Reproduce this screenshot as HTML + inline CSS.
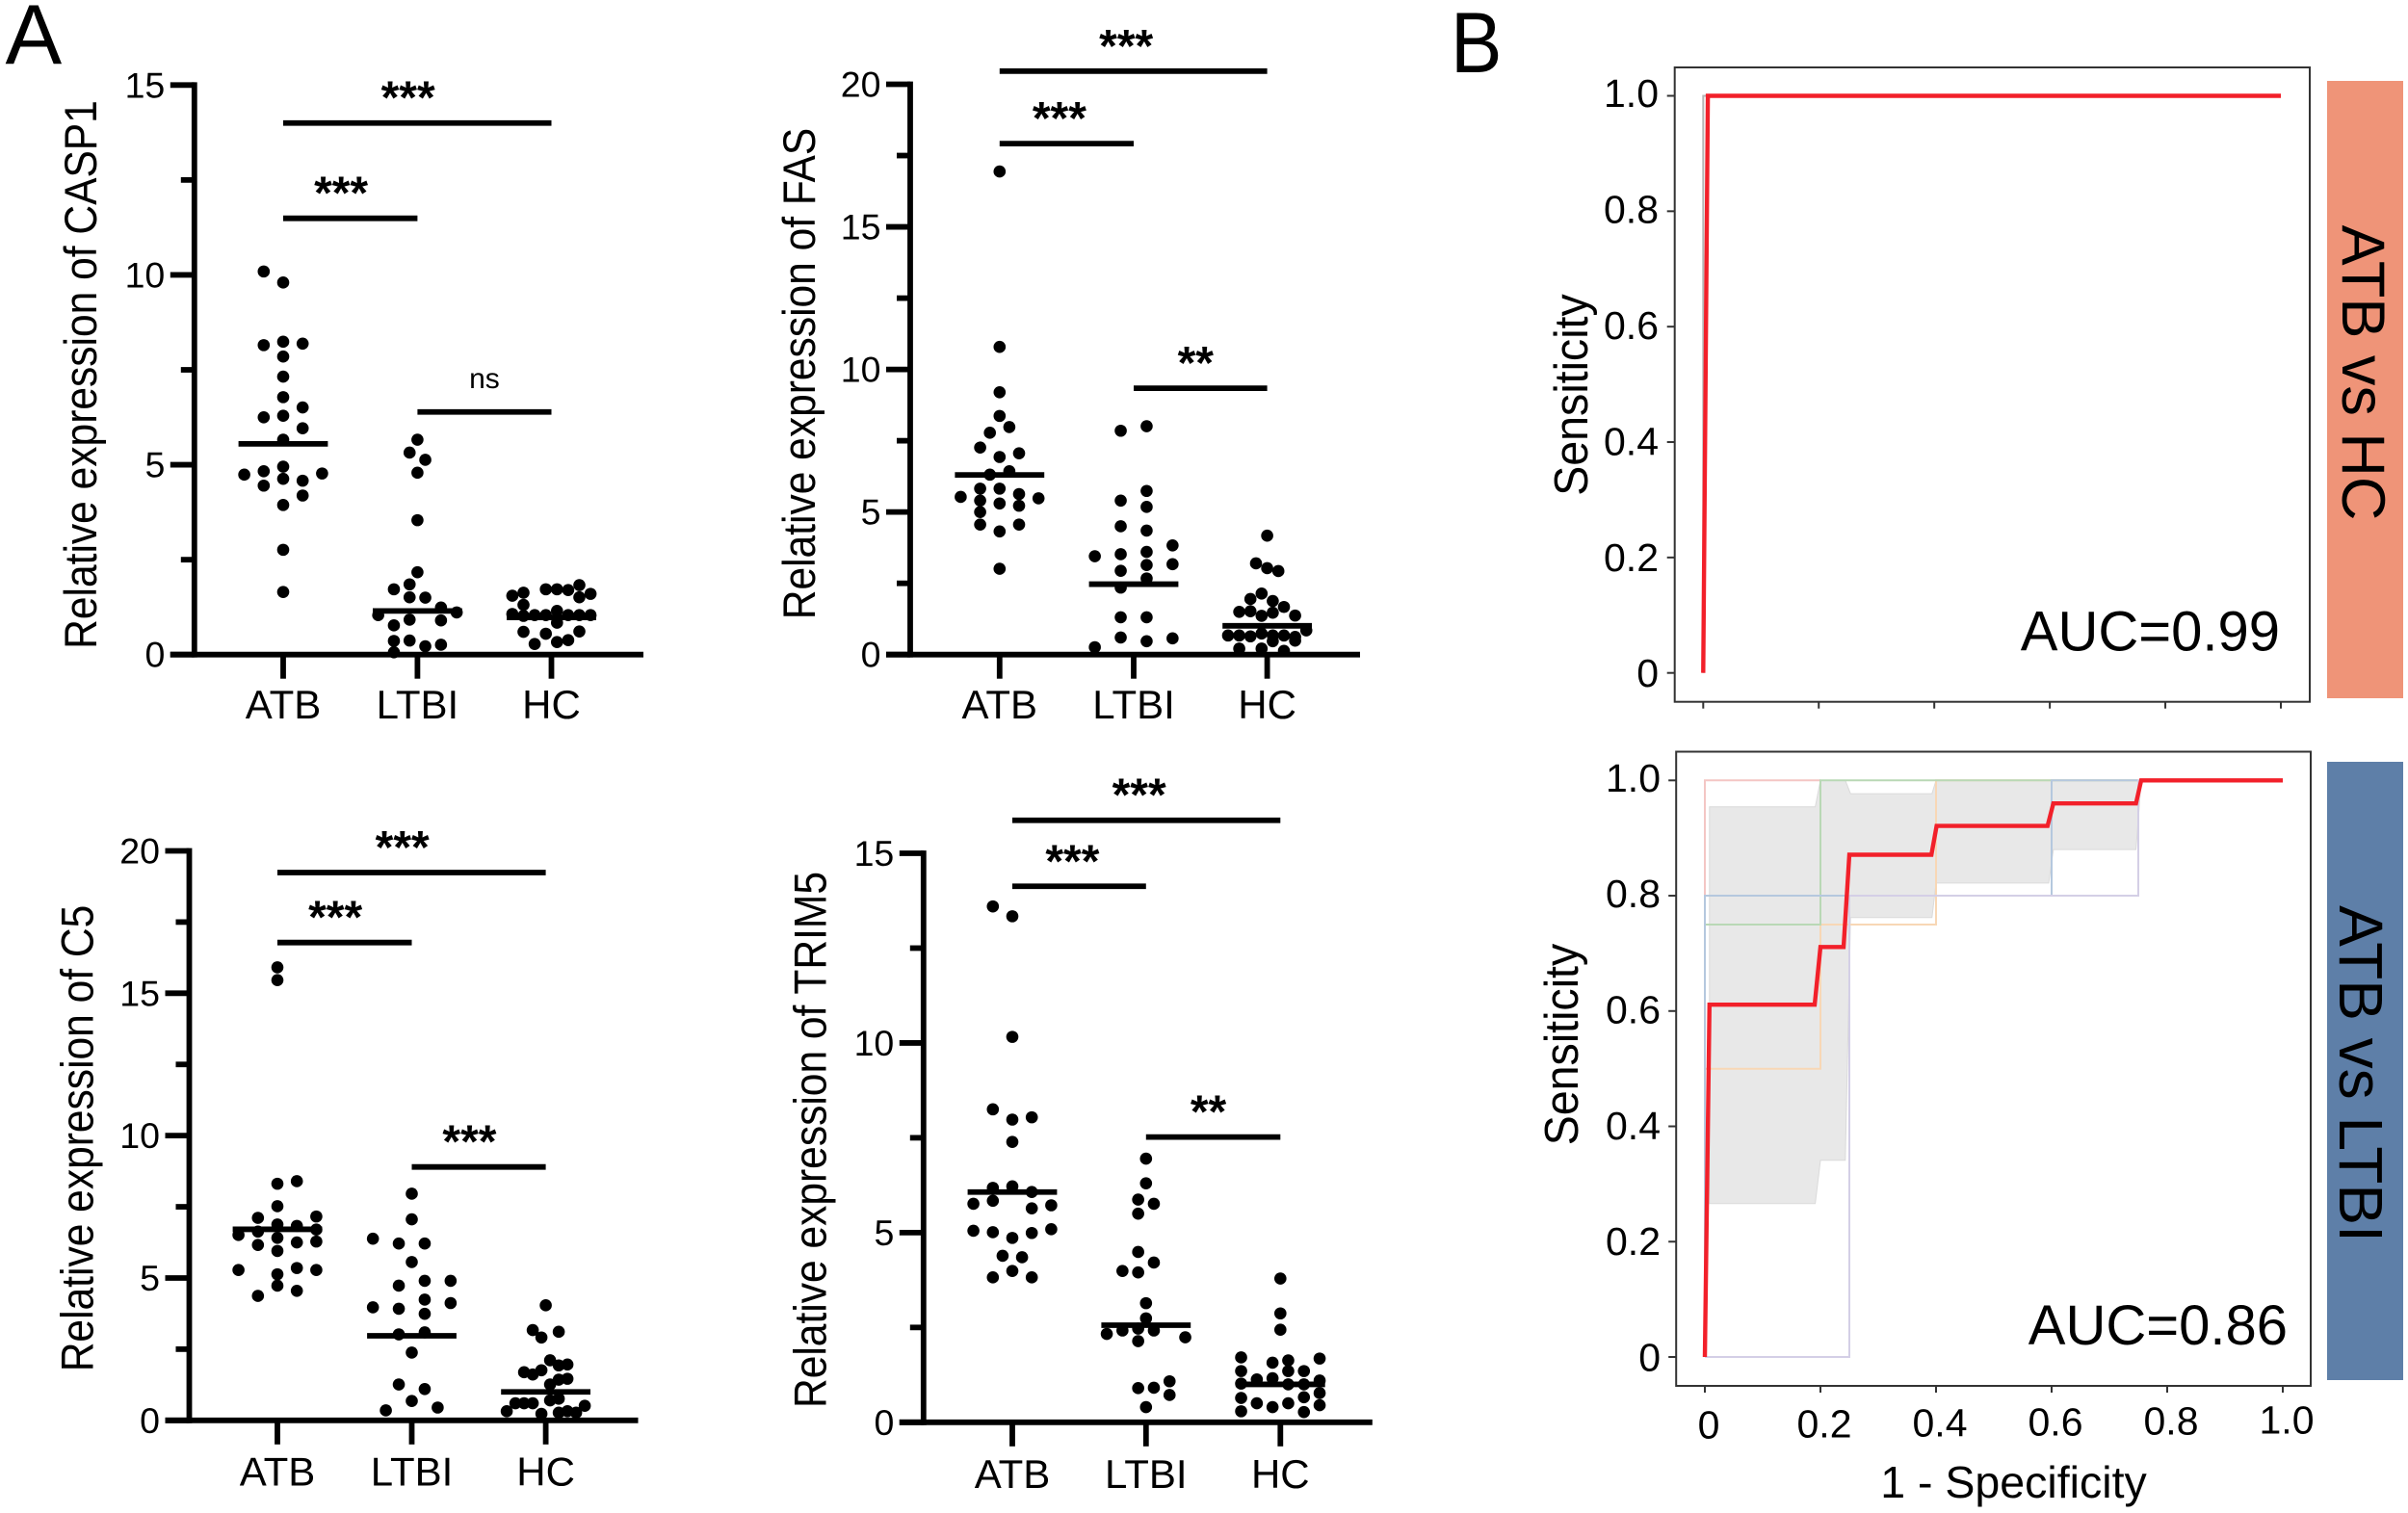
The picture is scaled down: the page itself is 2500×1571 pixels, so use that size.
<!DOCTYPE html>
<html lang="en">
<head>
<meta charset="utf-8">
<title>Relative expression and ROC curves</title>
<style>
html,body{margin:0;padding:0;background:#fff;}
svg{display:block;}
text{font-family:"Liberation Sans",sans-serif;fill:#000;}
</style>
</head>
<body>
<svg id="figure" xmlns="http://www.w3.org/2000/svg" width="2500" height="1571" viewBox="0 0 2500 1571">
<rect width="2500" height="1571" fill="#fff"/>
<text x="5.5" y="66.7" font-size="88">A</text>
<text font-size="89" transform="translate(1506 75) scale(0.9 1)">B</text>
<rect x="2416" y="84" width="79" height="641" fill="#EF9478"/>
<text font-size="63" text-anchor="middle" transform="translate(2432 387) rotate(90)">ATB vs HC</text>
<rect x="2416" y="791" width="79" height="642" fill="#5E7FA8"/>
<text font-size="64" text-anchor="middle" transform="translate(2429 1115) rotate(90)">ATB vs LTBI</text>
</svg>
<script>
const categories = ['ATB', 'LTBI', 'HC'];

const casp1AtbValues = [10.09,9.80,8.15,8.24,8.19,7.85,7.32,6.78,6.51,6.25,6.29,5.96,5.66,4.83,4.95,4.74,4.77,4.63,4.58,4.45,4.19,3.94,2.76,1.65];
const casp1AtbLanes = [-1,0,-1,0,1,0,0,0,1,-1,0,1,0,-1,0,-2,2,0,1,-1,1,0,0,0];
const casp1LtbiValues = [5.66,5.32,5.13,4.79,3.54,2.17,1.85,1.72,1.51,1.50,1.24,1.11,1.04,0.77,0.92,0.90,0.36,0.37,0.22,0.26,0.06];
const casp1LtbiLanes = [0,-0.5,0.5,0,0,0,-0.5,-1.5,-0.5,0.5,1.5,2.5,-2.5,-1.5,-0.5,1.5,-1.5,-0.5,0.5,1.5,-1.5];
const casp1HcValues = [1.83,1.72,1.72,1.70,1.63,1.55,1.60,1.51,1.31,1.15,1.07,1.04,1.04,1.02,1.04,1.04,1.04,0.84,0.60,0.55,0.61,0.38,0.33,0.28];
const casp1HcLanes = [2.5,-0.5,0.5,1.5,-2.5,-3.5,3.5,2.5,-2.5,0.5,-3.5,-0.5,-1.5,-2.5,1.5,2.5,3.5,0.5,-2.5,-0.5,2.5,1.5,0.5,-1.5];
const casp1Medians = [5.55,1.15,0.98];
const casp1BracketLevels = [14.0,11.49,6.39];
const casp1BracketLabels = ['***','***','ns'];

const fasAtbValues = [16.94,10.79,9.2,8.37,7.78,7.98,7.26,7.06,6.93,6.31,6.43,5.82,5.82,5.63,5.53,5.48,5.4,5.3,5.22,5.0,4.56,4.56,4.32,3.01];
const fasAtbLanes = [0,0,0,0,-0.5,0.5,-1,1,0,-0.5,0.5,-1,0,1,-2,2,-1,0,1,-1,-1,1,0,0];
const fasLtbiValues = [8.01,7.85,5.74,5.4,5.18,4.5,4.35,3.83,3.45,3.52,3.6,3.17,3.14,2.94,2.67,2.35,1.31,1.31,0.6,0.57,0.47,0.26];
const fasLtbiLanes = [0.5,-0.5,0.5,-0.5,0.5,-0.5,0.5,1.5,-1.5,-0.5,0.5,1.5,0.5,-0.5,0.5,-0.5,-0.5,0.5,-0.5,1.5,0.5,-1.5];
const fasHcValues = [4.17,3.2,3.03,2.93,2.14,1.95,1.88,1.67,1.5,1.52,1.47,1.36,1.37,0.67,0.67,0.64,0.74,0.67,0.67,0.62,0.85,0.21,0.21,0.47,0.49,0.13];
const fasHcLanes = [0,-1,0,1,-0.5,-1.5,0.5,1.5,-2.5,-1.5,0.5,-0.5,2.5,-3.5,-2.5,-1.5,-0.5,0.5,1.5,2.5,3.5,-2.5,-0.5,0.5,2.5,1.5];
const fasMedians = [6.3,2.47,1.01];
const fasBracketLevels = [20.46,17.92,9.34];
const fasBracketLabels = ['***','***','**'];

const c5AtbValues = [15.91,15.46,8.4,8.31,7.52,7.11,7.16,6.88,6.83,6.63,6.7,6.51,6.41,6.16,6.25,6.28,5.95,5.28,5.35,5.28,5.13,4.73,4.55,4.37];
const c5AtbLanes = [0,0,1,0,0,-1,2,0,1,-1,2,-2,0,-1,1,2,0,-2,1,2,0,0,1,-1];
const c5LtbiValues = [7.96,7.06,6.38,6.21,6.21,5.56,4.9,4.9,4.73,4.24,4.12,3.97,3.92,3.74,3.02,3.09,2.38,1.26,1.1,0.68,0.45,0.35];
const c5LtbiLanes = [0,0,-1.5,-0.5,0.5,0,0.5,1.5,-0.5,0.5,1.5,-1.5,-0.5,0.5,-0.5,0.5,0,-0.5,0.5,0,1,-1];
const c5HcValues = [4.04,3.17,3.11,2.91,2.11,1.93,1.96,1.76,1.69,1.61,1.43,1.46,1.26,0.7,0.76,0.6,0.6,0.6,0.51,0.32,0.23,0.27,0.32,0.27];
const c5HcLanes = [0,-1.5,1.5,-0.5,0.5,1.5,2.5,-0.5,-2.5,-1.5,1.5,2.5,0.5,0.5,1.5,-3.5,-2.5,-1.5,4.5,-4.5,-0.5,1.5,2.5,3.5];
const c5Medians = [6.71,2.97,1.0];
const c5BracketLevels = [19.24,16.78,8.9];
const c5BracketLabels = ['***','***','***'];

const trim5AtbValues = [13.6,13.34,10.16,8.25,8.04,7.98,7.39,6.18,6.22,6.07,5.76,5.84,5.72,5.64,5.05,5.01,5.09,4.99,4.86,4.39,4.35,3.99,3.82,3.82];
const trim5AtbLanes = [-1,0,0,-1,1,0,0,-1,0,1,-2,-1,2,1,-2,-1,2,1,0,-0.5,0.5,0,-1,1];
const trim5LtbiValues = [6.95,6.3,5.87,5.76,5.5,4.49,4.21,3.99,3.95,3.14,2.74,2.33,2.42,2.47,2.42,2.24,2.14,1.08,0.9,0.91,0.72,0.4];
const trim5LtbiLanes = [0,0,-0.5,0.5,-0.5,-0.5,0.5,-1.5,-0.5,0,0,-2.5,-1.5,-0.5,0.5,2.5,-0.5,1.5,-0.5,0.5,1.5,0];
const trim5HcValues = [3.79,2.87,2.44,1.71,1.57,1.63,1.68,1.35,1.35,1.35,1.13,1.16,1.02,1.0,1.1,1.0,0.64,0.66,0.77,0.5,0.4,0.5,0.27,0.29,0.45];
const trim5HcLanes = [0,0,0,-2.5,-0.5,0.5,2.5,-2.5,0.5,1.5,-1.5,-0.5,-2.5,1.5,2.5,0.5,-2.5,1.5,2.5,-1.5,-0.5,0.5,1.5,-2.5,2.5];
const trim5Medians = [6.07,2.56,1.0];
const trim5BracketLevels = [15.87,14.13,7.52];
const trim5BracketLabels = ['***','***','**'];

const rocTicks = [0,0.2,0.4,0.6,0.8,1];
const rocTickLabels = ['0','0.2','0.4','0.6','0.8','1.0'];

const hcFpr = [0,0.008,1];
const hcTpr = [0,1,1];

const ltbiFpr = [0,0.008,0.19,0.2,0.24,0.25,0.392,0.401,0.593,0.603,0.746,0.755,1];
const ltbiTpr = [0,0.611,0.611,0.711,0.711,0.871,0.871,0.921,0.921,0.96,0.96,1,1];
const bandUpperFpr = [0.008,0.191,0.2,0.243,0.252,0.393,0.4,0.755];
const bandUpperTpr = [0.954,0.954,1,1,0.977,0.977,1,1];
const bandLowerFpr = [0.008,0.191,0.2,0.243,0.252,0.393,0.4,0.595,0.603,0.746,0.755];
const bandLowerTpr = [0.266,0.266,0.341,0.341,0.762,0.762,0.822,0.822,0.88,0.88,1];
const foldPinkFpr = [0,0,0.2];
const foldPinkTpr = [0,1,1];
const foldOrangeFpr = [0,0,0.2,0.2,0.4,0.4,1];
const foldOrangeTpr = [0,0.5,0.5,0.75,0.75,1,1];
const foldGreenFpr = [0,0,0.2,0.2,0.75];
const foldGreenTpr = [0,0.75,0.75,1,1];
const foldBlueFpr = [0,0,0.6,0.6,0.75];
const foldBlueTpr = [0,0.8,0.8,1,1];
const foldPurpleFpr = [0,0.25,0.25,0.75,0.75,1];
const foldPurpleTpr = [0,0,0.8,0.8,1,1];

const svg = document.getElementById('figure');
const NS = 'http://www.w3.org/2000/svg';
const LINE = 5.8;

function make(tag, parent, attrs) {
  const el = document.createElementNS(NS, tag);
  for (const k in attrs) el.setAttribute(k, attrs[k]);
  parent.appendChild(el);
  return el;
}

function drawScatter(cfg) {
  const g = make('g', svg, {});
  
  
  const yScale = v => cfg.y0 - v * (cfg.y0 - cfg.yTop) / cfg.yMax;
  const xScale = (i, lane) => cfg.cats[i] + lane * cfg.laneWidths[i];

  const yAxis = make('line', g, {x1: cfg.axisX, x2: cfg.axisX, y1: cfg.yTop - 2.9, y2: cfg.y0 + 2.9, stroke: '#000', 'stroke-width': LINE});
  
  
  const xAxis = make('line', g, {x1: cfg.axisX - 25, x2: cfg.xEnd, y1: cfg.y0, y2: cfg.y0, stroke: '#000', 'stroke-width': LINE});
  
  

  for (let v = 0; v <= cfg.yMax + 0.001; v += 2.5) {
    const major = Math.abs(v % 5) < 0.001;
    const tick = make('line', g, {x1: cfg.axisX - (major ? 25 : 14), x2: cfg.axisX, y1: yScale(v), y2: yScale(v), stroke: '#000', 'stroke-width': LINE});
    
    
    if (major) {
      const lab = make('text', g, {x: cfg.axisX - 30.5, y: yScale(v) + 13, 'font-size': 37.5, 'text-anchor': 'end'});
      
      
      lab.textContent = String(v);
    }
  }

  const title = make('text', g, {'font-size': 47, 'text-anchor': 'middle', transform: 'translate(' + cfg.titleX + ' ' + cfg.titleY + ') rotate(-90) scale(0.905 1)'});
  
  
  title.textContent = cfg.title;

  categories.forEach((c, i) => {
    const tick = make('line', g, {x1: cfg.cats[i], x2: cfg.cats[i], y1: cfg.y0, y2: cfg.y0 + 25, stroke: '#000', 'stroke-width': LINE});
    
    
    const lab = make('text', g, {x: cfg.cats[i], y: cfg.labelY, 'font-size': 42, 'text-anchor': 'middle'});
    
    
    lab.textContent = c;

    cfg.values[i].forEach((v, j) => {
      const dot = make('circle', g, {cx: xScale(i, cfg.lanes[i][j]), cy: yScale(v), r: 6.3, fill: '#000'});
      
      
    });

    const med = make('line', g, {x1: cfg.cats[i] - 46.4, x2: cfg.cats[i] + 46.4, y1: yScale(cfg.medians[i]), y2: yScale(cfg.medians[i]), stroke: '#000', 'stroke-width': LINE});
    
    
  });

  const spans = [[0, 2], [0, 1], [1, 2]];
  spans.forEach((s, i) => {
    const by = yScale(cfg.brackets[i]);
    const bar = make('line', g, {x1: cfg.cats[s[0]], x2: cfg.cats[s[1]], y1: by, y2: by, stroke: '#000', 'stroke-width': LINE});
    
    
    const mid = (cfg.cats[s[0]] + cfg.cats[s[1]]) / 2;
    const isNs = cfg.bracketLabels[i] === 'ns';
    const mark = make('text', g, {x: mid + cfg.markShift[i], y: isNs ? by - 25 : by - 10, 'font-size': isNs ? 30 : 48, 'font-weight': isNs ? 'normal' : 'bold', 'text-anchor': 'middle'});
    
    
    mark.textContent = cfg.bracketLabels[i];
  });
}

drawScatter({key: 'casp1', title: 'Relative expression of CASP1', axisX: 201.8, xEnd: 668, y0: 679.7, yTop: 88.3, yMax: 15,
  cats: [294, 433.4, 572.5], laneWidths: [20.2, 16.3, 11.6], titleX: 100, titleY: 389, labelY: 746,
  values: [casp1AtbValues, casp1LtbiValues, casp1HcValues], lanes: [casp1AtbLanes, casp1LtbiLanes, casp1HcLanes],
  medians: casp1Medians, brackets: casp1BracketLevels, bracketLabels: casp1BracketLabels, markShift: [-9.6, -9.6, 0]});
drawScatter({key: 'fas', title: 'Relative expression of FAS', axisX: 945, xEnd: 1412, y0: 679.7, yTop: 87.5, yMax: 20,
  cats: [1037.8, 1177, 1315.6], laneWidths: [20.2, 26.9, 11.6], titleX: 846, titleY: 388, labelY: 746,
  values: [fasAtbValues, fasLtbiValues, fasHcValues], lanes: [fasAtbLanes, fasLtbiLanes, fasHcLanes],
  medians: fasMedians, brackets: fasBracketLevels, bracketLabels: fasBracketLabels, markShift: [-7.5, -7.5, -5]});
drawScatter({key: 'c5', title: 'Relative expression of C5', axisX: 196.5, xEnd: 662.5, y0: 1474.8, yTop: 883.5, yMax: 20,
  cats: [288, 427.5, 566.6], laneWidths: [20.2, 26.9, 9], titleX: 96.4, titleY: 1182, labelY: 1542.6,
  values: [c5AtbValues, c5LtbiValues, c5HcValues], lanes: [c5AtbLanes, c5LtbiLanes, c5HcLanes],
  medians: c5Medians, brackets: c5BracketLevels, bracketLabels: c5BracketLabels, markShift: [-9.6, -9.6, -9.6]});
drawScatter({key: 'trim5', title: 'Relative expression of TRIM5', axisX: 958.8, xEnd: 1424.8, y0: 1476.8, yTop: 886, yMax: 15,
  cats: [1051, 1189.8, 1329.3], laneWidths: [20.2, 16.3, 16.3], titleX: 857.3, titleY: 1183.5, labelY: 1545,
  values: [trim5AtbValues, trim5LtbiValues, trim5HcValues], lanes: [trim5AtbLanes, trim5LtbiLanes, trim5HcLanes],
  medians: trim5Medians, brackets: trim5BracketLevels, bracketLabels: trim5BracketLabels, markShift: [-7.5, -7, -5]});

function pts(xs, ys, sx, sy) {
  return xs.map((x, i) => sx(x).toFixed(1) + ',' + sy(ys[i]).toFixed(1)).join(' ');
}

function drawRoc(cfg) {
  const g = make('g', svg, {});
  
  
  const sx = v => cfg.x0 + v * (cfg.x1 - cfg.x0);
  const sy = v => cfg.y0 - v * (cfg.y0 - cfg.y1);

  if (cfg.band) {
    const upper = pts(bandUpperFpr, bandUpperTpr, sx, sy);
    const lower = pts(bandLowerFpr.slice().reverse(), bandLowerTpr.slice().reverse(), sx, sy);
    const band = make('polygon', g, {points: upper + ' ' + lower, fill: '#e8e8e8', stroke: '#dadada', 'stroke-width': 1});
    
    
  }
  cfg.folds.forEach(f => {
    const line = make('polyline', g, {points: pts(f.x, f.y, sx, sy), fill: 'none', stroke: f.color, 'stroke-width': 2});
    
    
  });
  const curve = make('polyline', g, {points: pts(cfg.fpr, cfg.tpr, sx, sy), fill: 'none', stroke: '#f2202a', 'stroke-width': 4.4});
  
  

  const frame = make('rect', g, {x: cfg.left, y: cfg.top, width: cfg.right - cfg.left, height: cfg.bottom - cfg.top, fill: 'none', stroke: '#333', 'stroke-width': 2});
  
  

  rocTicks.forEach((t, i) => {
    const yt = make('line', g, {x1: cfg.left - 8, x2: cfg.left, y1: sy(t), y2: sy(t), stroke: '#333', 'stroke-width': 2});
    
    
    const yl = make('text', g, {x: cfg.yLabelX, y: sy(t) + 14.5 - 3 * t, 'font-size': 41, 'text-anchor': 'end'});
    
    
    yl.textContent = rocTickLabels[i];
    const xt = make('line', g, {x1: sx(t), x2: sx(t), y1: cfg.bottom, y2: cfg.bottom + 7, stroke: '#333', 'stroke-width': 2});
    
    
    if (cfg.xLabels) {
      const xl = make('text', g, {x: sx(t) + 4, y: cfg.bottom + 54.5 - 5 * t, 'font-size': 41, 'text-anchor': 'middle'});
      
      
      xl.textContent = rocTickLabels[i];
    }
  });

  const yTitle = make('text', g, {'font-size': 49, 'text-anchor': 'middle', transform: 'translate(' + cfg.titleX + ' ' + cfg.titleY + ') rotate(-90) scale(0.95 1)'});
  
  
  yTitle.textContent = 'Sensiticity';

  const auc = make('text', g, {x: cfg.aucX, y: cfg.aucY, 'font-size': 58, 'text-anchor': 'end'});
  
  
  auc.textContent = cfg.auc;

  if (cfg.xLabels) {
    const xTitle = make('text', g, {x: 2090.5, y: 1555, 'font-size': 46.5, 'text-anchor': 'middle'});
    
    
    xTitle.textContent = '1 - Specificity';
  }
}

drawRoc({key: 'atb-vs-hc', left: 1738.7, right: 2398, top: 70, bottom: 728.7, x0: 1768.3, x1: 2368, y0: 698.7, y1: 99.5,
  fpr: hcFpr, tpr: hcTpr, band: false,
  folds: [{name: 'grey', x: [0, 0, 0.01], y: [0, 1, 1], color: '#b5b5b5'}],
  yLabelX: 1722, titleX: 1648, titleY: 410, aucX: 2367, aucY: 675.5, auc: 'AUC=0.99', xLabels: false});

drawRoc({key: 'atb-vs-ltbi', left: 1740.2, right: 2399, top: 780.5, bottom: 1439, x0: 1770, x1: 2370, y0: 1409, y1: 810.3,
  fpr: ltbiFpr, tpr: ltbiTpr, band: true,
  folds: [
    {name: 'pink', x: foldPinkFpr, y: foldPinkTpr, color: '#f4c6c4'},
    {name: 'orange', x: foldOrangeFpr, y: foldOrangeTpr, color: '#f8d7b5'},
    {name: 'green', x: foldGreenFpr, y: foldGreenTpr, color: '#b9d8b5'},
    {name: 'blue', x: foldBlueFpr, y: foldBlueTpr, color: '#b5c8de'},
    {name: 'purple', x: foldPurpleFpr, y: foldPurpleTpr, color: '#d4cfe6'}
  ],
  yLabelX: 1724, titleX: 1638, titleY: 1084.5, aucX: 2375, aucY: 1396, auc: 'AUC=0.86', xLabels: true});
</script>
</body>
</html>
